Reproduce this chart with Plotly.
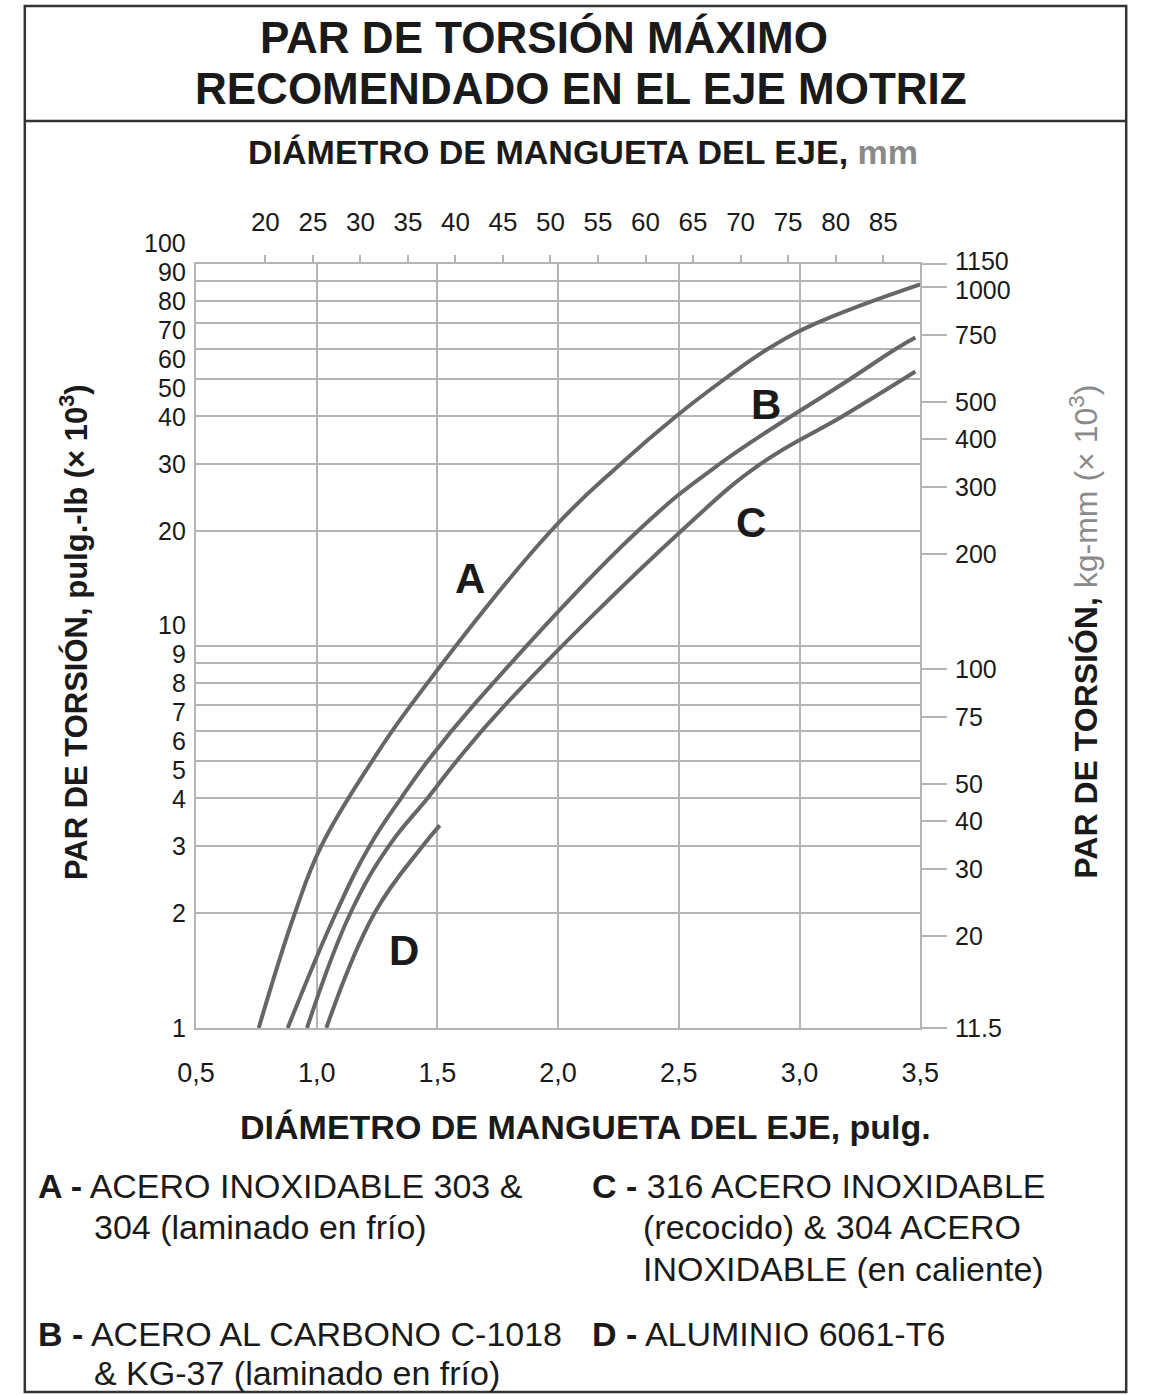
import math
import plotly.graph_objects as go

W, H = 1151, 1395

# Shaft diameter (in) vs. maximum recommended torque (in-lb x 10^3)
a_dia = [0.76, 0.91, 1.02, 1.23, 1.39, 1.97, 2.26, 2.49, 2.69, 2.87, 3.07, 3.5]
a_torque = [1.0, 2.0, 3.0, 5.0, 7.0, 20.0, 30.0, 40.0, 50.0, 60.0, 70.0, 88.5]
b_dia = [0.88, 1.08, 1.22, 1.35, 1.46, 1.65, 2.33, 2.67, 3.21, 3.40, 3.48]
b_torque = [1.0, 2.0, 3.0, 4.0, 5.0, 7.0, 20.0, 30.0, 50.0, 60.0, 64.2]
c_dia = [0.96, 1.14, 1.30, 1.46, 1.58, 1.78, 2.51, 2.84, 3.18, 3.48]
c_torque = [1.0, 2.0, 3.0, 4.0, 5.0, 7.0, 20.0, 30.0, 40.0, 52.3]
d_dia = [1.04, 1.24, 1.44, 1.51]
d_torque = [1.0, 2.0, 3.0, 3.39]

# Curve letters and where they sit (diameter in, torque in-lb x 10^3)
curve_letters = ["A", "B", "C", "D"]
letter_dia = [1.635, 2.86, 2.80, 1.36]
letter_torque = [15.0, 43.0, 21.0, 1.6]

# Axis ticks
in_ticks = [0.5, 1.0, 1.5, 2.0, 2.5, 3.0, 3.5]
in_labels = ["0,5", "1,0", "1,5", "2,0", "2,5", "3,0", "3,5"]
mm_ticks = [20, 25, 30, 35, 40, 45, 50, 55, 60, 65, 70, 75, 80, 85]
inlb_ticks = [1, 2, 3, 4, 5, 6, 7, 8, 9, 10, 20, 30, 40, 50, 60, 70, 80, 90, 100]
kgmm_ticks = [11.5, 20, 30, 40, 50, 75, 100, 200, 300, 400, 500, 750, 1000, 1150]

IN_TO_MM = 25.4
INLB_TO_KGMM = 11.5

CURVE = "#666666"
GRID = "#b4b4b4"
TXT = "#1a1a1a"
GREY_TXT = "#8a8a8a"
FONT = "Liberation Sans, Arial, Helvetica, sans-serif"
TICK_SIZE = 27
SIDE_TICK_SIZE = 25

# plot rectangle in page pixels
x0p, x1p = 183, 932
y_top, y_bot = 264, 1028
xdom = [x0p / W, x1p / W]
ydom = [1 - y_bot / H, 1 - y_top / H]

Y_RANGE = [0.0, 2.0]  # log10 of in-lb x 10^3
Y2_RANGE = [math.log10(10 ** Y_RANGE[0] * INLB_TO_KGMM), math.log10(10 ** Y_RANGE[1] * INLB_TO_KGMM)]

fig = go.Figure()
for xs, ys in [(a_dia, a_torque), (b_dia, b_torque), (c_dia, c_torque), (d_dia, d_torque)]:
    fig.add_trace(go.Scatter(
        x=xs, y=ys, mode="lines",
        line=dict(color=CURVE, width=4, shape="spline", smoothing=1.2),
        hoverinfo="skip",
    ))
# carrier trace for the metric axes
fig.add_trace(go.Scatter(x=[], y=[], xaxis="x2", yaxis="y2", mode="lines", hoverinfo="skip"))

fig.update_layout(
    width=W, height=H, autosize=False,
    margin=dict(l=0, r=0, t=0, b=0),
    paper_bgcolor="white", plot_bgcolor="white",
    showlegend=False,
    font=dict(family=FONT, color=TXT),
    xaxis=dict(
        domain=xdom, range=[0.5, 3.5], tickvals=in_ticks, ticktext=in_labels,
        showgrid=True, gridcolor=GRID, gridwidth=1.5,
        showline=True, linecolor=GRID, linewidth=1.5, mirror=True,
        ticks="", ticklabelstandoff=20, zeroline=False,
        tickfont=dict(size=TICK_SIZE, color=TXT), anchor="y",
    ),
    yaxis=dict(
        domain=ydom, type="log", range=Y_RANGE, tickvals=inlb_ticks,
        showticklabels=False,
        showgrid=True, gridcolor=GRID, gridwidth=1.5,
        showline=True, linecolor=GRID, linewidth=1.5, mirror=True,
        ticks="", zeroline=False, anchor="x",
    ),
    xaxis2=dict(
        overlaying="x", side="top", anchor="y",
        range=[0.5 * IN_TO_MM, 3.5 * IN_TO_MM], tickvals=mm_ticks,
        ticktext=[str(v) for v in mm_ticks],
        showgrid=False, showline=False, zeroline=False,
        ticks="outside", ticklen=8, tickwidth=1.5, tickcolor=GRID,
        ticklabelstandoff=14, tickfont=dict(size=26, color=TXT),
    ),
    yaxis2=dict(
        overlaying="y", side="right", anchor="x", type="log",
        range=Y2_RANGE, tickvals=kgmm_ticks, showticklabels=False,
        showgrid=False, showline=False, zeroline=False,
        ticks="outside", ticklen=26, tickwidth=1.5, tickcolor=GRID,
    ),
)


def spread(desired, gap):
    """Least-squares shift of sorted label centres so neighbours keep a minimum gap."""
    shifted = [d - i * gap for i, d in enumerate(desired)]
    blocks = []
    for v in shifted:
        blocks.append([v, 1])
        while len(blocks) > 1 and blocks[-2][0] / blocks[-2][1] > blocks[-1][0] / blocks[-1][1]:
            s, c = blocks.pop()
            blocks[-1][0] += s
            blocks[-1][1] += c
    out = []
    for s, c in blocks:
        out += [s / c] * c
    return [v + i * gap for i, v in enumerate(out)]


def axis_labels(values, texts, rng, yref, x_paper, xanchor, xshift, gap=29):
    # pixel centre of each tick from the axis' own log mapping (top -> bottom order)
    span = y_bot - y_top
    order = sorted(range(len(values)), key=lambda i: -values[i])
    want = [y_bot - (math.log10(values[i]) - rng[0]) / (rng[1] - rng[0]) * span for i in order]
    got = spread(want, gap)
    for i, w, g in zip(order, want, got):
        fig.add_annotation(
            text=texts[i], x=x_paper, y=math.log10(values[i]), xref="paper", yref=yref,
            xanchor=xanchor, yanchor="middle", xshift=xshift, yshift=-(g - w),
            showarrow=False, borderpad=0,
            font=dict(size=SIDE_TICK_SIZE, color=TXT, family=FONT),
        )


axis_labels(inlb_ticks, [str(v) for v in inlb_ticks], Y_RANGE, "y", xdom[0], "right", -9)
axis_labels(kgmm_ticks, [("%g" % v) for v in kgmm_ticks], Y2_RANGE, "y2", xdom[1], "left", 34)


def ann(text, x, y, size, xanchor="center", angle=0, color=TXT, pad=1):
    fig.add_annotation(
        text=text, x=x / W, y=1 - y / H, xref="paper", yref="paper",
        xanchor=xanchor, yanchor="middle", showarrow=False, textangle=angle,
        borderpad=pad, font=dict(size=size, color=color, family=FONT),
    )


# title block
ann("<b>PAR DE TORSIÓN MÁXIMO</b>", 543, 38, 44, pad=0)
ann("<b>RECOMENDADO EN EL EJE MOTRIZ</b>", 581, 88, 44, pad=0)

# axis titles
ann("<b>DIÁMETRO DE MANGUETA DEL EJE, <span style='color:%s'>mm</span></b>" % GREY_TXT, 583, 152, 34)
ann("<b>DIÁMETRO DE MANGUETA DEL EJE, pulg.</b>", 586, 1127, 34)
ann("<b>PAR DE TORSIÓN, pulg.-lb (× 10<sup>3</sup>)</b>", 57, 632, 31, angle=-90)
ann("<b>PAR DE TORSIÓN,</b> <span style='color:%s'>kg-mm (× 10<sup>3</sup>)</span>" % GREY_TXT,
    1101, 632, 32, angle=-90)

# curve letters
for letter, xd, yd in zip(curve_letters, letter_dia, letter_torque):
    fig.add_annotation(
        text="<b>%s</b>" % letter, x=xd, y=math.log10(yd), xref="x", yref="y",
        showarrow=False, font=dict(size=42, color=TXT, family=FONT),
    )

# material key
LEG = 34
ann("<b>A -</b> ACERO INOXIDABLE 303 &", 18, 1186, LEG, xanchor="left")
ann("304 (laminado en frío)", 75, 1227, LEG, xanchor="left")
ann("<b>C -</b> 316 ACERO INOXIDABLE", 590, 1186, LEG, xanchor="left")
ann("(recocido) & 304 ACERO", 643, 1227, LEG, xanchor="left")
ann("INOXIDABLE (en caliente)", 643, 1269, LEG, xanchor="left")
ann("<b>B -</b> ACERO AL CARBONO C-1018", 18, 1334, LEG, xanchor="left")
ann("& KG-37 (laminado en frío)", 75, 1373, LEG, xanchor="left")
ann("<b>D -</b> ALUMINIO 6061-T6", 590, 1334, LEG, xanchor="left")

# frame and title divider
fig.add_shape(type="rect", xref="paper", yref="paper",
              x0=6 / W, x1=1145 / W, y0=1 - 1392 / H, y1=1 - 6 / H,
              line=dict(color="#333333", width=2.5))
fig.add_shape(type="line", xref="paper", yref="paper",
              x0=6 / W, x1=1145 / W, y0=1 - 121 / H, y1=1 - 121 / H,
              line=dict(color="#333333", width=2.5))

fig.write_html("out.html")
